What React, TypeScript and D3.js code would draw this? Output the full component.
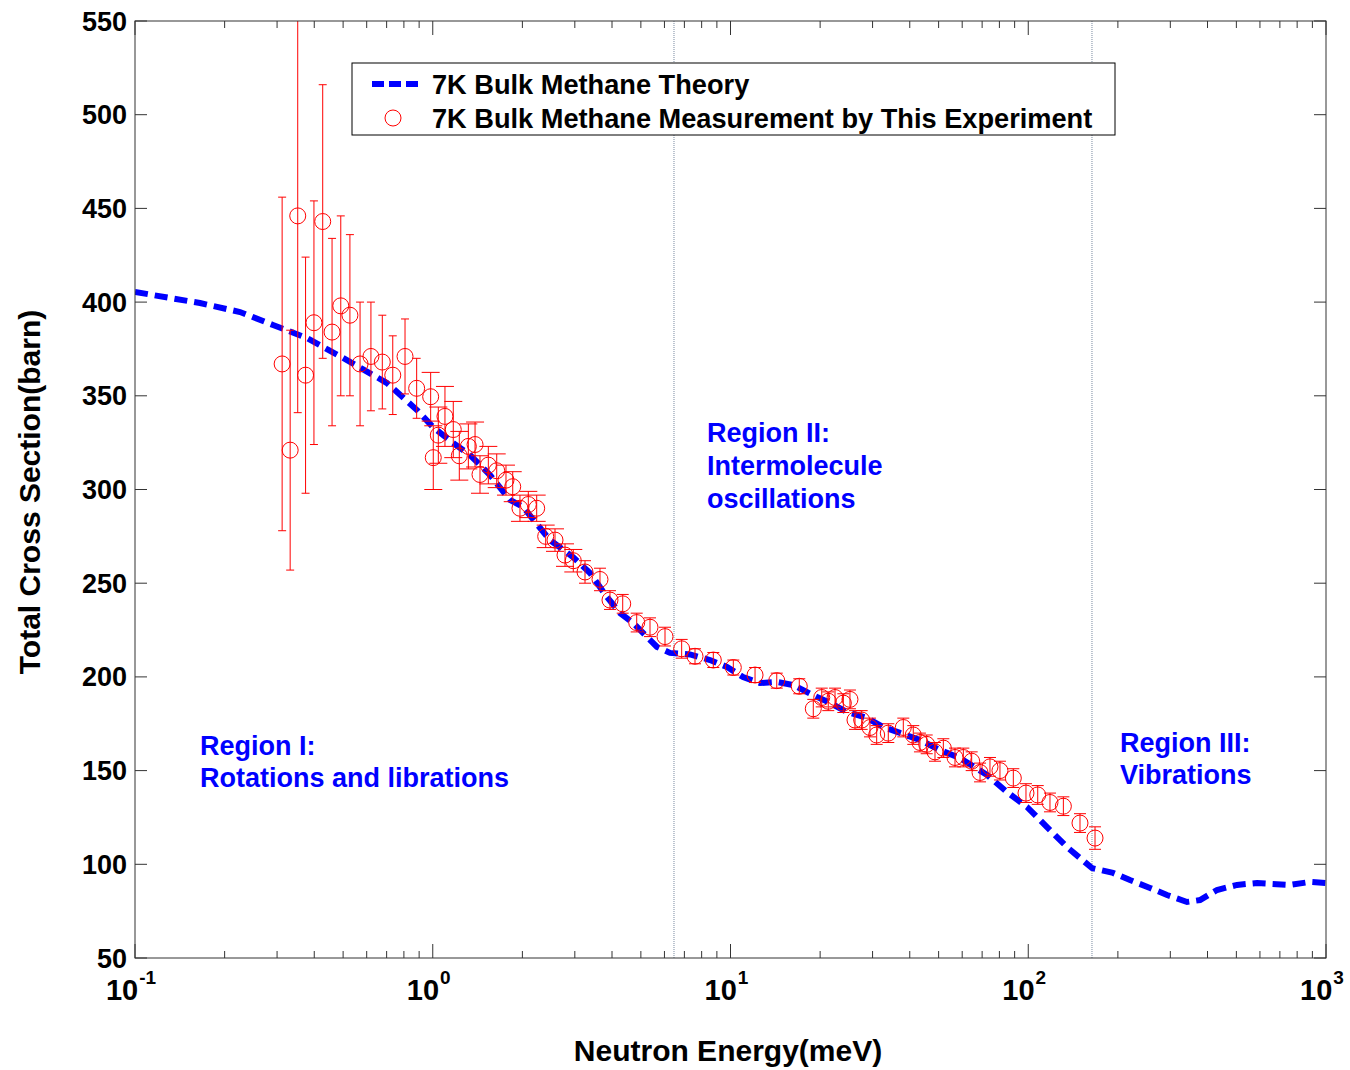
import React from "react";
import * as d3 from "d3";

// Theory curve (energy in meV, cross section in barn)
const theoryE = [0.1, 0.1653, 0.2253, 0.2907, 0.3782, 0.515, 0.702, 0.885, 1.002, 1.17, 1.334, 1.557, 1.817, 2.01, 2.476, 2.958, 3.375, 3.848, 4.255, 4.706, 5.664, 6.263, 7.31, 8.53, 9.73, 11.02, 12.56, 14.32, 16.22, 18.93, 21.59, 24.62, 28.73, 32.53, 37.09, 43.3, 50.5, 59.0, 72.7, 84.8, 99.0, 115.6, 134.9, 163.7, 192.6, 219.6, 256.4, 292.4, 341.4, 377.5, 430.5, 502.6, 586.7, 757, 883.6, 1000];
const theoryV = [405.4, 399.5, 394.7, 387.8, 380.8, 369.1, 356.8, 342.4, 333.3, 324.8, 318.4, 307.7, 294.4, 290.7, 273.0, 264.0, 255.4, 242.6, 234.1, 228.8, 216.0, 212.8, 212.0, 209.0, 205.3, 199.9, 196.7, 197.3, 195.7, 190.3, 186.1, 181.3, 178.1, 173.3, 170.1, 166.3, 161.0, 156.7, 147.7, 138.6, 130.6, 119.9, 109.2, 98.0, 95.4, 91.6, 87.4, 83.6, 79.9, 80.9, 86.3, 89.0, 90.0, 89.0, 90.6, 90.0];

// Measurement
const measE = [0.312, 0.332, 0.352, 0.374, 0.399, 0.427, 0.459, 0.491, 0.527, 0.570, 0.620, 0.677, 0.734, 0.807, 0.883,
  0.984, 1.004, 1.044, 1.099, 1.172, 1.228, 1.317, 1.387, 1.441, 1.537, 1.64, 1.762, 1.856, 1.963, 2.094, 2.234, 2.395, 2.574, 2.781, 2.965,
  3.246, 3.645, 3.938, 4.345, 4.842, 5.366, 6.026, 6.855, 7.6, 8.755, 10.22, 12.09, 14.3, 17.02, 18.97, 20.25, 21.3, 22.44, 23.93, 25.19,
  26.19, 27.58, 29.41, 30.97, 33.88, 38.05, 41.1, 43.28, 45.6, 48.62, 51.86, 56.75, 60.53, 64.57, 68.87, 74.38, 80.35, 89.1, 98.26, 107.6,
  118.3, 131.2, 149.2, 167.6];
const measV = [367, 321, 446, 361, 389, 443, 384, 398, 393, 367, 371, 368, 361, 371, 354,
  349.5, 317, 329, 339, 332, 318, 323, 324, 308, 313, 310, 305, 301.5, 290, 292, 290, 275, 273, 265, 262,
  256, 252, 241, 239, 229, 226.5, 221.5, 215, 211, 209, 205, 201, 198, 195, 183, 189, 187, 189, 186, 188,
  177, 177, 173, 169, 170, 173, 169, 165, 164, 160, 162, 157, 157, 155, 149, 152, 150, 146, 138, 137,
  133, 131, 122, 114];
const measErr = [89, 64, 105, 63, 65, 73, 50, 48, 43, 33, 29, 25, 21, 20, 16,
  13, 17, 15, 16, 15, 13, 12, 12, 10, 10, 9, 8, 8, 7, 7, 7, 6, 6, 6, 6,
  6, 6, 5, 5, 5, 5, 5, 5, 4, 4, 4, 4, 4, 4, 5, 5, 5, 5, 5, 5,
  5, 5, 5, 5, 5, 5, 5, 5, 5, 5, 5, 5, 5, 5, 5, 5, 5, 5, 5, 5,
  5, 5, 5, 6];

const yTicks = [50, 100, 150, 200, 250, 300, 350, 400, 450, 500, 550];
const xDecades = [-1, 0, 1, 2, 3];
const regionLines = [6.46, 163.7];

const legendLabels = ["7K Bulk Methane Theory", "7K Bulk Methane Measurement by This Experiment"];

const FONT = "'Liberation Sans', Arial, sans-serif";

export default function App() {
  const W = 1350, H = 1070;
  const x = d3.scaleLog().domain([0.1, 1000]).range([135, 1326]);
  const y = d3.scaleLinear().domain([50, 550]).range([958, 21]);
  const [x0, x1] = x.range();
  const [y0, y1] = y.range();

  const line = d3.line<number>().x((_, i) => x(theoryE[i])).y((d) => y(d));

  const minor: number[] = [];
  for (let d = -1; d < 3; d++) for (let k = 2; k <= 9; k++) minor.push(k * Math.pow(10, d));

  const capHalf = (e: number) => (e < 0.9 ? 4 : e < 3 ? 9 : 6);
  const axisColor = "#333";

  return (
    <svg width={W} height={H} style={{ position: "absolute", left: 0, top: 0, background: "#fff" }} fontFamily={FONT}>
      <defs>
        <clipPath id="plotclip">
          <rect x={x0} y={y1} width={x1 - x0} height={y0 - y1} />
        </clipPath>
      </defs>
      <rect x={0} y={0} width={W} height={H} fill="#fff" />

      {/* region dividers */}
      {regionLines.map((e, i) => (
        <line key={i} x1={x(e)} x2={x(e)} y1={y1} y2={y0} stroke="#7a8aa0" strokeWidth={1} strokeDasharray="1 1" />
      ))}

      {/* theory curve */}
      <path d={line(theoryV) || ""} fill="none" stroke="#0000ff" strokeWidth={6} strokeDasharray="13 7" clipPath="url(#plotclip)" />

      {/* measurement */}
      <g clipPath="url(#plotclip)" stroke="#ff0000" strokeWidth={1} fill="none">
        {measE.map((e, i) => {
          const cx = x(e);
          const yt = y(measV[i] + measErr[i]);
          const yb = y(measV[i] - measErr[i]);
          const h = capHalf(e);
          return (
            <g key={i}>
              <line x1={cx} x2={cx} y1={yt} y2={yb} />
              <line x1={cx - h} x2={cx + h} y1={yt} y2={yt} />
              <line x1={cx - h} x2={cx + h} y1={yb} y2={yb} />
              <circle cx={cx} cy={y(measV[i])} r={8} />
            </g>
          );
        })}
      </g>

      {/* axes box */}
      <rect x={x0} y={y1} width={x1 - x0} height={y0 - y1} fill="none" stroke={axisColor} strokeWidth={1} />

      {/* y ticks */}
      {yTicks.map((t) => (
        <g key={t}>
          <line x1={x0} x2={x0 + 12} y1={y(t)} y2={y(t)} stroke={axisColor} />
          <line x1={x1} x2={x1 - 12} y1={y(t)} y2={y(t)} stroke={axisColor} />
          <text x={127} y={y(t) + 9.5} textAnchor="end" fontSize={27} fontWeight="bold" fill="#000">{t}</text>
        </g>
      ))}

      {/* x ticks */}
      {xDecades.map((d) => {
        const px = x(Math.pow(10, d));
        return (
          <g key={d}>
            <line x1={px} x2={px} y1={y0} y2={y0 - 14} stroke={axisColor} />
            <line x1={px} x2={px} y1={y1} y2={y1 + 14} stroke={axisColor} />
            <text x={px - 4} y={1000} textAnchor="middle" fontSize={29} fontWeight="bold" fill="#000">
              10
              <tspan dx={1} dy={-16} fontSize={19}>{d}</tspan>
            </text>
          </g>
        );
      })}
      {minor.map((m, i) => {
        const px = x(m);
        return (
          <g key={i}>
            <line x1={px} x2={px} y1={y0} y2={y0 - 7} stroke={axisColor} />
            <line x1={px} x2={px} y1={y1} y2={y1 + 7} stroke={axisColor} />
          </g>
        );
      })}

      {/* axis titles */}
      <text x={728} y={1061} textAnchor="middle" fontSize={30} fontWeight="bold" fill="#000">Neutron Energy(meV)</text>
      <text transform={`translate(40,492) rotate(-90)`} textAnchor="middle" fontSize={30} fontWeight="bold" fill="#000">Total Cross Section(barn)</text>

      {/* region labels */}
      <g fill="#0000ff" fontSize={27} fontWeight="bold">
        <text x={200} y={755}>Region I:</text>
        <text x={200} y={787}>Rotations and librations</text>
        <text x={707} y={442}>Region II:</text>
        <text x={707} y={475}>Intermolecule</text>
        <text x={707} y={508}>oscillations</text>
        <text x={1120} y={752}>Region III:</text>
        <text x={1120} y={784}>Vibrations</text>
      </g>

      {/* legend */}
      <g>
        <rect x={352} y={63} width={763} height={72} fill="#fff" stroke="#000" strokeWidth={1} />
        <line x1={372} x2={418} y1={84} y2={84} stroke="#0000ff" strokeWidth={6} strokeDasharray="12 5" />
        <circle cx={393} cy={118} r={8} fill="none" stroke="#ff0000" strokeWidth={1} />
        <text x={432} y={94} fontSize={27.2} fontWeight="bold" fill="#000">{legendLabels[0]}</text>
        <text x={432} y={128} fontSize={27.2} fontWeight="bold" fill="#000">{legendLabels[1]}</text>
      </g>
    </svg>
  );
}
